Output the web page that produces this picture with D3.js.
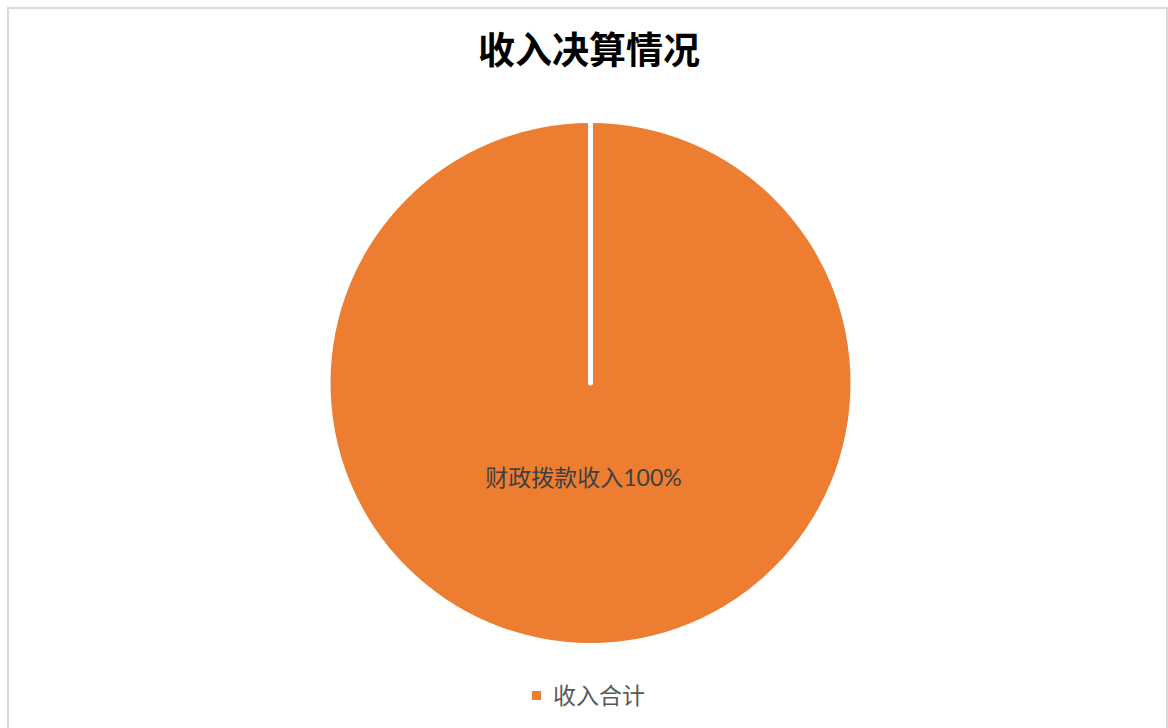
<!DOCTYPE html>
<html>
<head>
<meta charset="utf-8">
<script src="https://cdn.jsdelivr.net/npm/d3@7"></script>
<style>
  body { margin: 0; background: #fff; }
</style>
</head>
<body>
<div id="chart"></div>
<script>
// data
const title = "收入决算情况";
const categories = ["财政拨款收入"];
const values = [100];
const seriesName = "收入合计";
const colors = ["#ED7D31"];

function main() {
    const width = 1168, height = 728;
    const cx = 590.5, cy = 383, radius = 260;

    const svg = d3.select("#chart")
        .append("svg")
        .attr("width", width)
        .attr("height", height);

    // chart area border
    svg.append("rect")
        .attr("x", 8)
        .attr("y", 8)
        .attr("width", 1159)
        .attr("height", 740)
        .attr("fill", "#fff")
        .attr("stroke", "#d9d9d9")
        .attr("stroke-width", 2);

    // title
    svg.append("text")
        .attr("x", 589)
        .attr("y", 64)
        .attr("text-anchor", "middle")
        .attr("font-family", "'Noto Sans CJK SC', sans-serif")
        .attr("font-weight", "bold")
        .attr("font-size", "37px")
        .attr("fill", "#000")
        .text(title);

    const total = d3.sum(values);
    const pie = d3.pie().sort(null)(values);
    const arc = d3.arc().innerRadius(0).outerRadius(radius);

    const g = svg.append("g")
        .attr("transform", `translate(${cx},${cy})`);

    g.selectAll("path.slice")
        .data(pie)
        .join("path")
        .attr("class", "slice")
        .attr("d", arc)
        .attr("fill", (d, i) => colors[i]);

    // white slice borders along each slice start angle
    g.selectAll("line.sep")
        .data(pie)
        .join("line")
        .attr("class", "sep")
        .attr("x1", 0)
        .attr("y1", 0)
        .attr("x2", d => Math.sin(d.startAngle) * (radius + 2))
        .attr("y2", d => -Math.cos(d.startAngle) * (radius + 2))
        .attr("stroke", "#fff")
        .attr("stroke-width", 5)
        .attr("stroke-linecap", "round");

    // data labels
    g.selectAll("text.lbl")
        .data(pie)
        .join("text")
        .attr("class", "lbl")
        .attr("x", d => values.length === 1 ? -7 : arc.centroid(d)[0])
        .attr("y", d => values.length === 1 ? 103 : arc.centroid(d)[1])
        .attr("text-anchor", "middle")
        .attr("font-family", "Lato, 'Noto Sans CJK SC', sans-serif")
        .attr("font-size", "23px")
        .attr("fill", "#404040")
        .text((d, i) => categories[i] + Math.round(d.value / total * 100) + "%");

    // legend
    const legend = svg.append("g")
        .attr("transform", "translate(532,691)");
    legend.append("rect")
        .attr("width", 9)
        .attr("height", 9)
        .attr("fill", colors[0]);
    legend.append("text")
        .attr("x", 21)
        .attr("y", 13)
        .attr("font-family", "'Noto Sans CJK SC', sans-serif")
        .attr("font-size", "23px")
        .attr("fill", "#595959")
        .text(seriesName);
}

main();
</script>
</body>
</html>
